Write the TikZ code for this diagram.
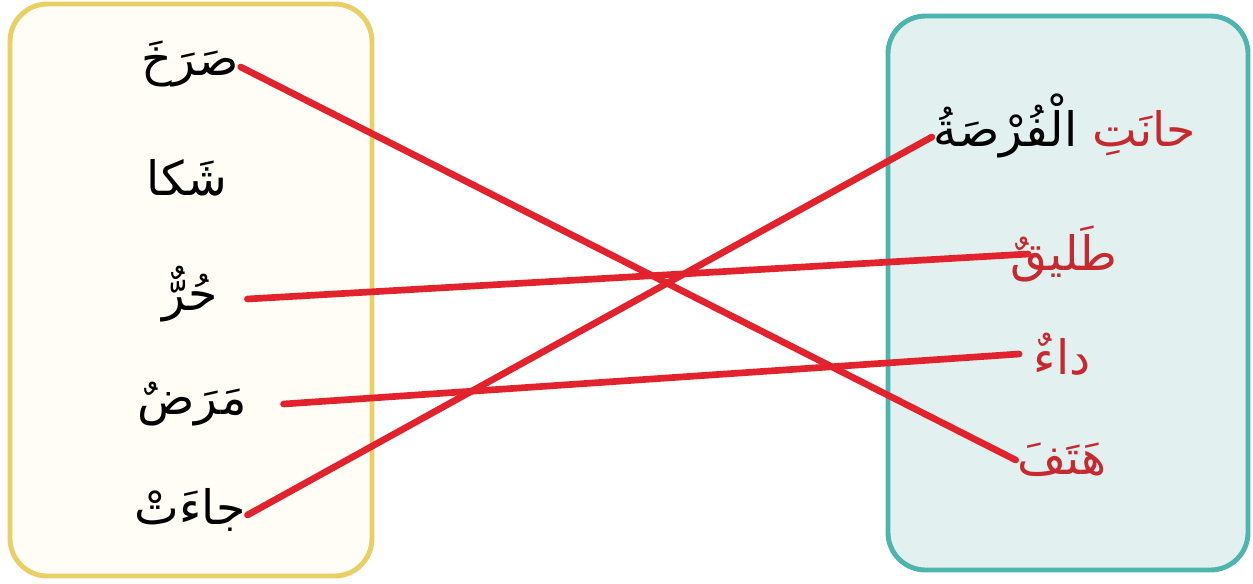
\documentclass[tikz,border=0pt]{standalone}
\usepackage{fontspec}
\usepackage{xcolor}
\usetikzlibrary{positioning}
\newfontfamily\arabicfont[Script=Arabic]{DejaVu Sans}
\TeXXeTstate=1
\definecolor{BoxYellow}{HTML}{E8CF66}
\definecolor{BoxCream}{HTML}{FFFDF6}
\definecolor{BoxTeal}{HTML}{4DB5AD}
\definecolor{BoxMint}{HTML}{E2F1F0}
\definecolor{MatchRed}{HTML}{E2222C}
\definecolor{WordRed}{HTML}{C62A30}

\begin{document}
\begin{tikzpicture}[x=0.02cm, y=-0.02cm,
  w/.style={inner sep=1pt, font=\arabicfont\fontsize{27}{32}\selectfont},
  wr/.style={w, text=WordRed},
  match/.style={MatchRed, line width=3.8pt, line cap=round},
  panel/.style={line width=2.8pt, rounded corners=0.75cm}]
  \useasboundingbox (0,0) rectangle (1253,583);
  \fill[white] (0,0) rectangle (1253,583);
  \draw[panel, draw=BoxYellow, fill=BoxCream] (10,4) rectangle (372,576);
  \draw[panel, draw=BoxTeal, fill=BoxMint] (888,16) rectangle (1248,570);

  \node[w] (sarakha) at (190,64) {\beginR صَرَخَ\endR};
  \node[w] (shaka) at (187,178) {\beginR شَكا\endR};
  \node[w] (hurr) at (190,294) {\beginR حُرٌّ\endR};
  \node[w] (marad) at (192,404) {\beginR مَرَضٌ\endR};
  \node[w] (jaat) at (190,510) {\beginR جاءَتْ\endR};

  % two colours in one line: each run kept apart
  \node[w] (furSa) at (1065,126) {\beginR الْفُرْصَةُ\endR\ \textcolor{WordRed}{\beginR حانَتِ\endR}};
  \node[wr] (taliq) at (1064,254) {\beginR طَليقٌ\endR};
  \node[wr] (daa) at (1062,354) {\beginR داءٌ\endR};
  \node[wr] (hatafa) at (1062,460) {\beginR هَتَفَ\endR};

  \draw[match] ([yshift=-0.06cm]sarakha.east) -- (hatafa.west);
  \draw[match] ([xshift=0.55cm, yshift=-0.1cm]hurr.east) -- ([xshift=0.4cm]taliq.west);
  \draw[match] ([xshift=0.7cm]marad.east) -- ([xshift=-0.25cm]daa.west);
  \draw[match] ([yshift=-0.1cm]jaat.east) -- ([yshift=-0.22cm]furSa.west);
\end{tikzpicture}
\end{document}
